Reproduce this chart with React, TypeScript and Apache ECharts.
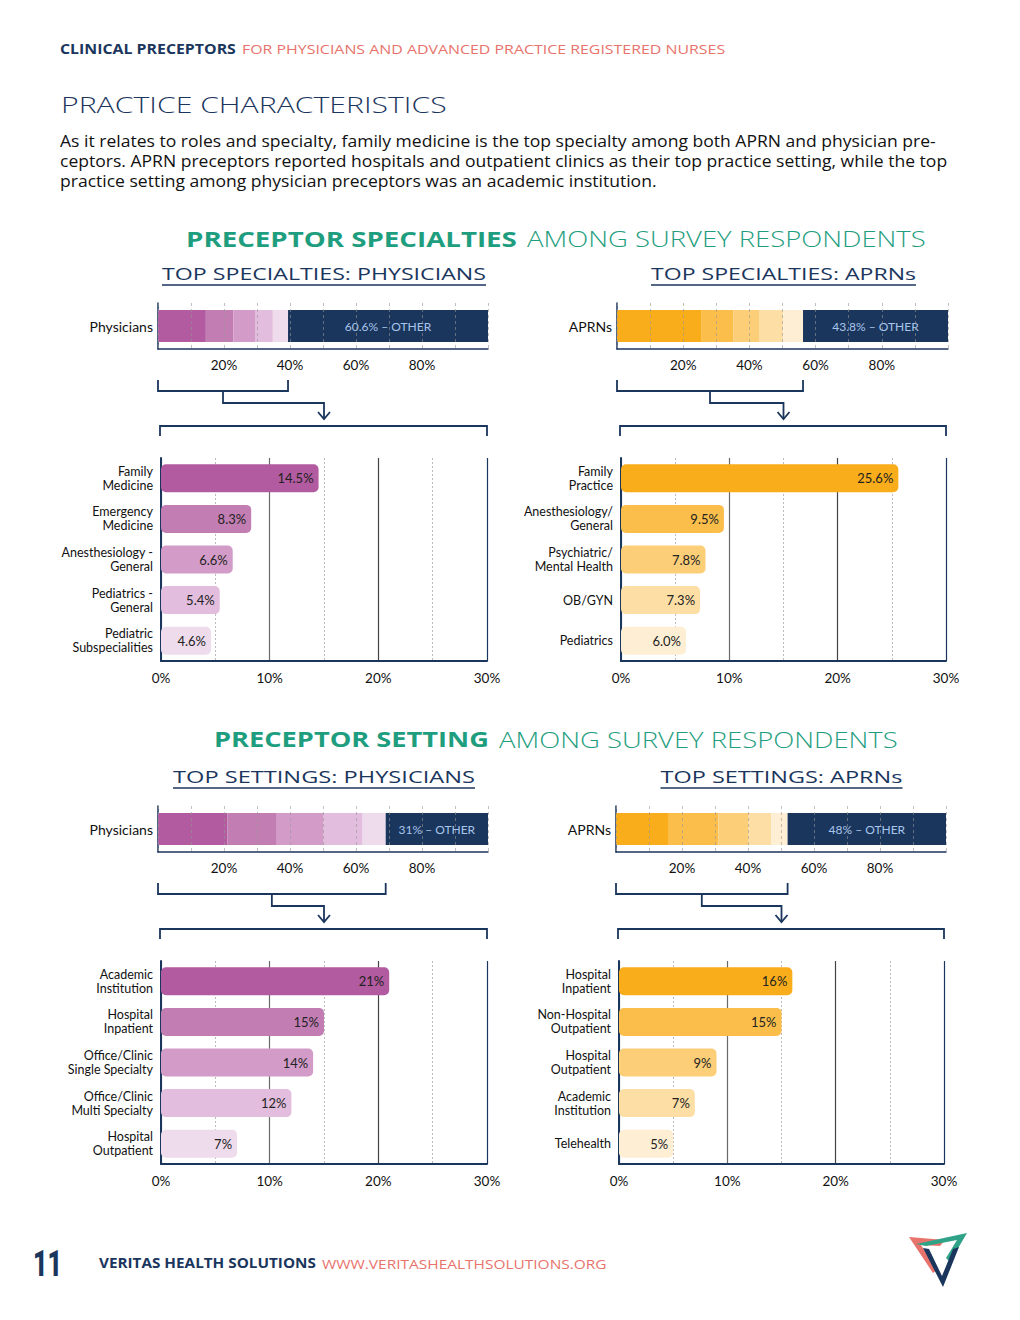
import React, { useEffect, useRef } from "react";
import * as echarts from "echarts";

const FONT = "Lato, 'Open Sans', sans-serif";
const PAGE_FONT = "'Open Sans', Lato, sans-serif";
const NAVY = "#1B365D";
const SALMON = "#E8736C";
const TEAL = "#1E9E7E";
const OTHER_LABEL = "#A8C5EB";

const physPalette = ["#B25BA0", "#C27DB3", "#D39CC8", "#E2BDDD", "#EEDCEC"];
const aprnPalette = ["#F9AD1A", "#FBBE4A", "#FCCE78", "#FDDFA5", "#FEEFD4"];

const specPhysCategories = ["Family\nMedicine", "Emergency\nMedicine", "Anesthesiology -\nGeneral", "Pediatrics -\nGeneral", "Pediatric\nSubspecialities"];
const specPhysValues = [14.5, 8.3, 6.6, 5.4, 4.6];
const specPhysOther = 60.6;

const specAprnCategories = ["Family\nPractice", "Anesthesiology/\nGeneral", "Psychiatric/\nMental Health", "OB/GYN", "Pediatrics"];
const specAprnValues = [25.6, 9.5, 7.8, 7.3, 6.0];
const specAprnOther = 43.8;

const setPhysCategories = ["Academic\nInstitution", "Hospital\nInpatient", "Office/Clinic\nSingle Specialty", "Office/Clinic\nMulti Specialty", "Hospital\nOutpatient"];
const setPhysValues = [21, 15, 14, 12, 7];
const setPhysOther = 31;

const setAprnCategories = ["Hospital\nInpatient", "Non-Hospital\nOutpatient", "Hospital\nOutpatient", "Academic\nInstitution", "Telehealth"];
const setAprnValues = [16, 15, 9, 7, 5];
const setAprnOther = 48;

const stackTickLabels = [20, 40, 60, 80];
const detailMax = 30;

const paragraph = [
  "As it relates to roles and specialty, family medicine is the top specialty among both APRN and physician pre-",
  "ceptors. APRN preceptors reported hospitals and outpatient clinics as their top practice setting, while the top",
  "practice setting among physician preceptors was an academic institution.",
];

type Box = { left: number; top: number; width: number; height: number };
type Panel = {
  group: string;
  subtitle: string;
  subtitleW: number;
  cats: string[];
  values: number[];
  other: number;
  palette: string[];
  dec: number;
  top: Box;
  bottom: Box;
  subtitleY: number;
};

const panels: Panel[] = [
  {
    group: "Physicians", subtitle: "TOP SPECIALTIES: PHYSICIANS", subtitleW: 324, cats: specPhysCategories, values: specPhysValues,
    other: specPhysOther, palette: physPalette, dec: 1,
    top: { left: 158, top: 303, width: 330, height: 46 }, bottom: { left: 161, top: 458, width: 326, height: 203 }, subtitleY: 273,
  },
  {
    group: "APRNs", subtitle: "TOP SPECIALTIES: APRNs", subtitleW: 265, cats: specAprnCategories, values: specAprnValues,
    other: specAprnOther, palette: aprnPalette, dec: 1,
    top: { left: 617, top: 303, width: 331, height: 46 }, bottom: { left: 621, top: 458, width: 325, height: 203 }, subtitleY: 273,
  },
  {
    group: "Physicians", subtitle: "TOP SETTINGS: PHYSICIANS", subtitleW: 302, cats: setPhysCategories, values: setPhysValues,
    other: setPhysOther, palette: physPalette, dec: 0,
    top: { left: 158, top: 806, width: 330, height: 46 }, bottom: { left: 161, top: 961, width: 326, height: 203 }, subtitleY: 776,
  },
  {
    group: "APRNs", subtitle: "TOP SETTINGS: APRNs", subtitleW: 242, cats: setAprnCategories, values: setAprnValues,
    other: setAprnOther, palette: aprnPalette, dec: 0,
    top: { left: 616, top: 806, width: 330, height: 46 }, bottom: { left: 619, top: 961, width: 325, height: 203 }, subtitleY: 776,
  },
];

const ctx = typeof document !== "undefined" ? document.createElement("canvas").getContext("2d") : null;
function tw(text: string, size: number, weight: string | number = "normal", family = PAGE_FONT) {
  if (!ctx) return text.length * size * 0.6;
  ctx.font = `${weight} ${size}px ${family}`;
  return ctx.measureText(text).width;
}

function buildOption(): any {
  const grid: any[] = [];
  const xAxis: any[] = [];
  const yAxis: any[] = [];
  const series: any[] = [];
  panels.forEach((p, pi) => {
    const ti = pi * 2;
    const bi = pi * 2 + 1;
    grid.push({ ...p.top, containLabel: false, outerBoundsMode: "none" });
    grid.push({ ...p.bottom, containLabel: false, outerBoundsMode: "none" });
    xAxis.push({
      gridIndex: ti, type: "value", min: 0, max: 100, interval: 10, z: 5,
      axisLine: { show: true, lineStyle: { color: NAVY, width: 1.5 } },
      axisTick: { show: false },
      splitLine: { show: true, lineStyle: { color: "rgba(150,150,150,0.75)", type: [3, 3], width: 0.8 } },
      axisLabel: {
        formatter: (v: number) => (stackTickLabels.includes(v) ? `${v}%` : ""),
        fontSize: 13.5, color: "#111", margin: 9, fontFamily: FONT,
      },
    });
    xAxis.push({
      gridIndex: bi, type: "value", min: 0, max: detailMax, interval: 10,
      axisLine: { show: true, lineStyle: { color: NAVY, width: 2 } },
      axisTick: { show: false },
      splitLine: { show: true, lineStyle: { color: ["#666", "#6a6a6a", "#444", NAVY], width: 1.2 } },
      minorTick: { show: false, splitNumber: 2 },
      minorSplitLine: { show: true, lineStyle: { color: "#bbb", type: [2, 2], width: 1 } },
      axisLabel: { formatter: "{value}%", fontSize: 13.5, color: "#111", margin: 10, fontFamily: FONT },
    });
    yAxis.push({
      gridIndex: ti, type: "category", data: [p.group],
      axisLine: { show: true, lineStyle: { color: NAVY, width: 1.5 } },
      axisTick: { show: false },
      axisLabel: { fontSize: 14, color: "#111", margin: 5, fontFamily: FONT },
    });
    yAxis.push({
      gridIndex: bi, type: "category", inverse: true, data: p.cats,
      axisLine: { show: true, lineStyle: { color: NAVY, width: 2 } },
      axisTick: { show: false },
      axisLabel: { fontSize: 12.5, lineHeight: 14, color: "#111", margin: 8, align: "right", fontFamily: FONT },
    });
    p.values.forEach((v, i) => {
      series.push({
        type: "bar", xAxisIndex: ti, yAxisIndex: ti, stack: `s${pi}`, barWidth: 32,
        data: [v], itemStyle: { color: p.palette[i] }, silent: true,
      });
    });
    series.push({
      type: "bar", xAxisIndex: ti, yAxisIndex: ti, stack: `s${pi}`, barWidth: 32,
      data: [p.other], itemStyle: { color: NAVY }, silent: true,
      label: {
        show: true, position: "inside", formatter: `${p.other}% – OTHER`,
        color: OTHER_LABEL, fontSize: 12, fontFamily: FONT,
      },
    });
    series.push({
      type: "bar", xAxisIndex: bi, yAxisIndex: bi, barWidth: 28, silent: true,
      data: p.values.map((v, i) => ({ value: v, itemStyle: { color: p.palette[i], borderRadius: 5 } })),
      label: {
        show: true, position: "insideRight", distance: 5,
        formatter: (d: any) => `${Number(d.value).toFixed(p.dec)}%`,
        fontSize: 13, color: "#222", fontFamily: FONT,
      },
    });
  });
  return {
    animation: false,
    backgroundColor: "#fff",
    textStyle: { fontFamily: FONT },
    grid, xAxis, yAxis, series,
  };
}

// text stretched horizontally to the reference's (letter-spaced) footprint
function fitText(x: number, y: number, t: string, size: number, fill: string, weight: any, target: number | null, align = "left", family = PAGE_FONT) {
  const w = tw(t, size, weight, family);
  const sx = target ? target / w : 1;
  return {
    type: "text", x, y, scaleX: sx, silent: true,
    style: { text: t, fill, fontSize: size, fontWeight: weight, fontFamily: family, align, verticalAlign: "middle" },
  };
}

function line(points: number[][], w = 1.8) {
  return { type: "polyline", silent: true, shape: { points }, style: { stroke: NAVY, lineWidth: w, fill: "none" } };
}

function buildGraphics(chart: any): any[] {
  const g: any[] = [];
  // header
  g.push(fitText(60, 49, "CLINICAL PRECEPTORS", 13.5, NAVY, "bold", 176));
  g.push(fitText(242, 49, "FOR PHYSICIANS AND ADVANCED PRACTICE REGISTERED NURSES", 13.5, SALMON, "normal", 483));
  g.push(fitText(61, 105, "PRACTICE CHARACTERISTICS", 22, NAVY, 300, 386));
  const pScale = 877 / tw(paragraph[0], 16.5, "normal");
  paragraph.forEach((l, i) => {
    const el: any = fitText(60, 141 + i * 20, l, 16.5, "#111", "normal", null);
    el.scaleX = pScale;
    g.push(el);
  });

  // section titles
  const sections = [
    { bold: "PRECEPTOR SPECIALTIES", bx: 186, bw: 331, rest: "AMONG SURVEY RESPONDENTS", rx: 527, rw: 399, y: 238 },
    { bold: "PRECEPTOR SETTING", bx: 214, bw: 275, rest: "AMONG SURVEY RESPONDENTS", rx: 499, rw: 399, y: 739 },
  ];
  sections.forEach((s) => {
    g.push(fitText(s.bx, s.y, s.bold, 22, TEAL, "bold", s.bw));
    g.push(fitText(s.rx, s.y, s.rest, 22, TEAL, 300, s.rw));
  });

  const px = (axis: number, v: number) => chart.convertToPixel({ xAxisIndex: axis }, v) as number;

  panels.forEach((p, pi) => {
    const ti = pi * 2;
    const bi = pi * 2 + 1;
    const cum = p.values.reduce((a, b) => a + b, 0);
    const x0 = px(ti, 0);
    const x1 = px(ti, cum);
    const xm = (x0 + x1) / 2;
    const gx0 = px(bi, 0);
    const gx1 = px(bi, detailMax);
    const xc = (gx0 + gx1) / 2;
    const axisY = p.top.top + p.top.height;
    const lowerTop = p.bottom.top - 2;
    const bTop = axisY + 31;
    const bY = axisY + 42;
    const midY = axisY + 54;
    const wideY = lowerTop - 30;
    const arrowEnd = wideY - 7;
    g.push(line([[x0, bTop], [x0, bY], [x1, bY], [x1, bTop]]));
    g.push(line([[xm, bY], [xm, midY], [xc, midY], [xc, arrowEnd]]));
    g.push(line([[xc - 6, arrowEnd - 7], [xc, arrowEnd], [xc + 6, arrowEnd - 7]]));
    g.push(line([[gx0 - 1, wideY + 10], [gx0 - 1, wideY], [gx1, wideY], [gx1, wideY + 10]]));

    // subtitle with underline
    g.push(fitText(xc, p.subtitleY, p.subtitle, 17, NAVY, "normal", p.subtitleW, "center"));
    g.push({
      type: "line", silent: true,
      shape: { x1: xc - p.subtitleW / 2, y1: p.subtitleY + 12, x2: xc + p.subtitleW / 2, y2: p.subtitleY + 12 },
      style: { stroke: NAVY, lineWidth: 1.3 },
    });
  });

  // footer
  g.push(fitText(33, 1264, "11", 37, NAVY, 900, 29, "left", "Roboto, Lato, sans-serif"));
  g.push(fitText(99, 1263, "VERITAS HEALTH SOLUTIONS", 13.5, NAVY, "bold", 217));
  g.push(fitText(322, 1263, "WWW.VERITASHEALTHSOLUTIONS.ORG", 13.5, SALMON, "normal", 285));

  // logo
  g.push({ type: "polygon", silent: true, shape: { points: [[909, 1237], [945, 1240], [940, 1246], [921, 1245], [937, 1270], [933, 1273]] }, style: { fill: "#E8736C" } });
  g.push({ type: "polygon", silent: true, shape: { points: [[916, 1244], [967, 1233], [950, 1262], [946, 1258], [957, 1240], [926, 1246]] }, style: { fill: "#2FA387" } });
  g.push({ type: "polygon", silent: true, shape: { points: [[923, 1248], [929, 1249], [942, 1276], [953, 1249], [959, 1247], [943, 1287]] }, style: { fill: NAVY } });
  return g;
}

export default function App() {
  const ref = useRef<HTMLDivElement>(null);
  useEffect(() => {
    document.body.style.margin = "0";
    const chart = echarts.init(ref.current!, null, { renderer: "svg" });
    chart.setOption(buildOption());
    chart.setOption({ graphic: buildGraphics(chart) });
    return () => chart.dispose();
  }, []);
  return <div ref={ref} style={{ width: 1020, height: 1320, background: "#fff" }} />;
}
